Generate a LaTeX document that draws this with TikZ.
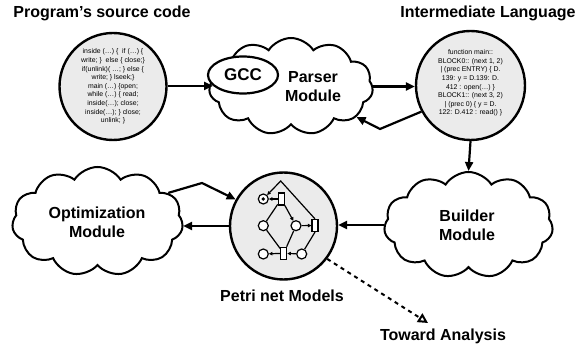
\documentclass[tikz,border=0pt]{standalone}
\usepackage{fontspec}
\setmainfont{Liberation Sans}
\usetikzlibrary{shapes.symbols,shapes.geometric,arrows.meta}
\definecolor{circfill}{RGB}{235,235,235}
\begin{document}
\begin{tikzpicture}[x=1pt,y=-1pt,
 bigcirc/.style={circle,draw,line width=2.4pt,fill=circfill,minimum size=107pt,inner sep=0pt},
 cloudbox/.style={cloud,cloud puffs=11,cloud puff arc=115,aspect=1.9,draw,line width=2pt,fill=white,inner sep=0pt},
 lbl/.style={font=\fontsize{16}{19}\selectfont\bfseries,align=center,inner sep=0pt},
 code/.style={font=\fontsize{6.9}{8.6}\selectfont,align=center,inner sep=0pt},
 arr/.style={line width=2.2pt,-{Triangle[length=9pt,width=8pt]}},
 dasharr/.style={line width=2pt,dash pattern=on 4pt off 4pt,-{Triangle[open,length=10pt,width=10pt,line width=2pt]}},
 place/.style={circle,draw,line width=1.2pt,fill=white,minimum size=10pt,inner sep=0pt},
 trans/.style={rectangle,draw,line width=1.2pt,fill=white,minimum width=6pt,minimum height=12pt,inner sep=0pt},
 parc/.style={line width=1.2pt},
 parr/.style={line width=1.2pt,-{Triangle[length=3.5pt,width=3.5pt]}},
]
\useasboundingbox (0,0) rectangle (575,347);

% titles
\node[lbl] (t1) at (102,13) {Program's source code};
\node[lbl] (t2) at (488,13) {Intermediate Language};

% source circle
\node[bigcirc] (src) at (113,86.5) {};
\node[code] (srctext) at (113,86.5) {inside (\dots) \{\ \ if (\dots) \{\\
write; \}\ \ else \{ close;\}\\
if(unlink)( \dots; \} else \{\\
write; \} lseek;\}\\
main (\dots) \{open;\\
while (\dots) \{ read;\\
inside(\dots); close;\\
inside(\dots); \} close;\\
unlink; \}};

% parser cloud with GCC
\node[cloudbox,minimum width=164pt,minimum height=97pt] (parser) at (291,86.5) {};
\node[ellipse,draw,line width=2.2pt,fill=white,minimum width=70pt,minimum height=37pt,inner sep=0pt,font=\fontsize{17}{19}\selectfont\bfseries] (gcc) at (243,75) {GCC};
\node[lbl] (ptext) at (313,87) {Parser\\Module};

% intermediate language circle
\node[bigcirc,minimum size=109pt] (il) at (470.5,85.5) {};
\node[code] (iltext) at (470.5,83) {function main::\\
BLOCK0:: (next 1, 2)\\
| (prec ENTRY) \{ D.\\
139: y = D.139: D.\\
412 : open(\dots) \}\\
BLOCK1:: (next 3, 2)\\
| (prec 0) \{ y = D.\\
122: D.412 : read() \}};

% builder cloud
\node[cloudbox,minimum width=169pt,minimum height=106pt] (builder) at (468.5,225) {};
\node[lbl] (btext) at (467,225) {Builder\\Module};

% optimization cloud
\node[cloudbox,minimum width=171pt,minimum height=109pt] (opt) at (97.5,221.5) {};
\node[lbl] (otext) at (97,222) {Optimization\\Module};

% petri circle
\node[bigcirc] (petri) at (283.5,226) {};
\node[lbl] (pnm) at (282,296) {Petri net Models};
\node[lbl] (toward) at (443,336) {Toward Analysis};

% petri net inside
\coordinate (peak) at (280.7,181);
\node[place] (p0) at (263.3,199) {};
\fill (p0) circle (1.9pt);
\node[place] (p1) at (263.3,225.7) {};
\node[place] (p2) at (296,225.7) {};
\node[place] (p3) at (263.3,254) {};
\node[place] (p4) at (301.7,254) {};
\node[trans] (tr0) at (281.3,199) {};
\node[trans] (tr1) at (315,225.5) {};
\node[trans] (tr2) at (283.7,253.3) {};
\draw[parr] (tr0) -- (p0);
\draw[parr] (tr1.north) -- (peak) -- (p0);
\draw[parc] (tr0) -- (p1);
\draw[parr] (tr0) -- (p2);
\draw[parr] (p2) -- (tr1);
\draw[parc] (tr1.south) -- (p4);
\draw[parr] (p4) -- (tr2);
\draw[parr] (tr2) -- (p3);
\draw[parc] (p1) -- (tr2);
\draw[parc] (p2) -- (tr2);

% connectors
\draw[arr] (src.east |- gcc.200) -- (gcc.200);
\draw[arr] (parser.east) -- (parser.east -| il.west);
\coordinate (b1) at (380,129);
\draw[arr] (il.208) -- (b1) -- (parser.-25);
\draw[arr] (il.south) -- (builder.north);
\draw[arr] (builder.west) -- (builder.west -| petri.east);
\draw[arr] (petri.west) -- (petri.west -| opt.east);
\coordinate (b2) at (202,183);
\draw[arr] (opt.22) -- (b2) -- (petri.151);
\coordinate (ta) at (428,323);
\draw[dasharr] (petri.-37) -- (ta);
\end{tikzpicture}
\end{document}
